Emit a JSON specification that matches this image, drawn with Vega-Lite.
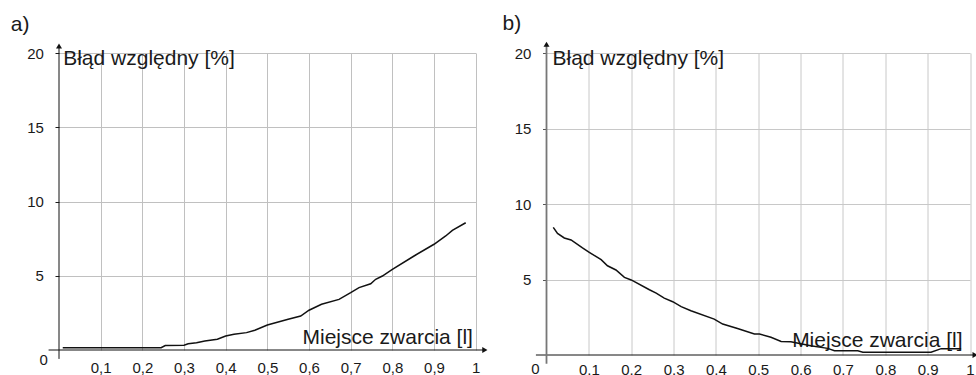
{
  "$schema": "https://vega.github.io/schema/vega-lite/v6.json",
  "padding": {"left": 10, "top": 12, "right": 0, "bottom": 0},
  "bounds": "flush",
  "spacing": 70.5,
  "config": {"view": {"stroke": null}, "font": "Liberation Sans"},
  "hconcat": [
    {
      "width": 416.7,
      "height": 297,
      "title": {"text": "a)", "anchor": "start", "frame": "group", "dx": -48.3, "offset": -9, "baseline": "alphabetic", "fontSize": 21, "fontWeight": "normal", "font": "Liberation Sans", "color": "#1a1a1a"},
      "encoding": {
        "x": {"field": "x", "type": "quantitative", "scale": {"domain": [0, 1], "nice": false, "zero": false},
          "axis": {"values": [0.1, 0.2, 0.3, 0.4, 0.5, 0.6, 0.7, 0.8, 0.9, 1], "grid": true, "gridColor": "#c0c0c0", "gridWidth": 1, "domain": false, "ticks": false, "tickSize": 0, "labelPadding": 22.7, "labelBaseline": "alphabetic", "labelFontSize": 15, "labelFont": "Liberation Sans", "labelColor": "#1a1a1a", "labelFlush": false, "labelOverlap": false,
            "labelExpr": "datum.value == 1 ? '1' : replace(format(datum.value, '.1f'), '.', ',')",
            "title": "Miejsce zwarcia [l]", "titleX": 413.4, "titleY": -7, "titleAlign": "right", "titleBaseline": "alphabetic", "titleFontSize": 21, "titleFontWeight": "normal", "titleFont": "Liberation Sans", "titleColor": "#1a1a1a"}},
        "y": {"field": "y", "type": "quantitative", "scale": {"domain": [0, 20], "nice": false, "zero": false},
          "axis": {"values": [5, 10, 15, 20], "grid": true, "gridColor": "#c0c0c0", "gridWidth": 1, "domain": false, "ticks": true, "tickSize": 4, "tickColor": "#1a1a1a", "labelPadding": 11.6, "labelFontSize": 15, "labelFont": "Liberation Sans", "labelColor": "#1a1a1a", "labelFlush": false, "labelOverlap": false,
            "title": "Błąd względny [%]", "titleAngle": 0, "titleX": 3.7, "titleY": 11, "titleAlign": "left", "titleBaseline": "alphabetic", "titleFontSize": 21, "titleFontWeight": "normal", "titleFont": "Liberation Sans", "titleColor": "#1a1a1a"}}
      },
      "layer": [
        {
          "data": {"values": [
            {"x": 0.009, "y": 0.15}, {"x": 0.245, "y": 0.15}, {"x": 0.255, "y": 0.3}, {"x": 0.3, "y": 0.32},
            {"x": 0.31, "y": 0.42}, {"x": 0.33, "y": 0.49}, {"x": 0.35, "y": 0.6}, {"x": 0.38, "y": 0.72},
            {"x": 0.4, "y": 0.94}, {"x": 0.42, "y": 1.06}, {"x": 0.45, "y": 1.17}, {"x": 0.47, "y": 1.33},
            {"x": 0.5, "y": 1.68}, {"x": 0.55, "y": 2.07}, {"x": 0.58, "y": 2.29}, {"x": 0.6, "y": 2.68},
            {"x": 0.63, "y": 3.08}, {"x": 0.672, "y": 3.41}, {"x": 0.7, "y": 3.86}, {"x": 0.72, "y": 4.2},
            {"x": 0.748, "y": 4.46}, {"x": 0.76, "y": 4.76}, {"x": 0.776, "y": 4.98}, {"x": 0.8, "y": 5.43},
            {"x": 0.852, "y": 6.33}, {"x": 0.9, "y": 7.12}, {"x": 0.928, "y": 7.68}, {"x": 0.944, "y": 8.06},
            {"x": 0.976, "y": 8.57}
          ]},
          "mark": {"type": "line", "color": "#111111", "strokeWidth": 1.5}
        },
        {
          "data": {"values": [{"x": -0.025, "x2": 1.02, "y": 0}]},
          "mark": {"type": "rule", "color": "#111111", "strokeWidth": 1},
          "encoding": {"x2": {"field": "x2"}}
        },
        {
          "data": {"values": [{"x": 0, "y": -0.6, "y2": 20.5}]},
          "mark": {"type": "rule", "color": "#111111", "strokeWidth": 1},
          "encoding": {"y2": {"field": "y2"}}
        },
        {
          "data": {"values": [{"x": 0, "y": 20.47}]},
          "mark": {"type": "point", "shape": "triangle-up", "filled": true, "color": "#111111", "size": 36, "opacity": 1}
        },
        {
          "data": {"values": [{"x": 1.022, "y": 0}]},
          "mark": {"type": "point", "shape": "triangle-right", "filled": true, "color": "#111111", "size": 36, "opacity": 1}
        },
        {
          "data": {"values": [{"x": 0, "y": 0, "t": "0"}]},
          "mark": {"type": "text", "dx": -15.3, "dy": 10, "align": "center", "baseline": "middle", "fontSize": 15, "font": "Liberation Sans", "color": "#1a1a1a"},
          "encoding": {"text": {"field": "t"}}
        }
      ]
    },
    {
      "width": 423.5,
      "height": 302,
      "title": {"text": "b)", "anchor": "start", "frame": "group", "dx": -44, "offset": -9, "baseline": "alphabetic", "fontSize": 21, "fontWeight": "normal", "font": "Liberation Sans", "color": "#1a1a1a"},
      "encoding": {
        "x": {"field": "x", "type": "quantitative", "scale": {"domain": [0, 1], "nice": false, "zero": false},
          "axis": {"values": [0.1, 0.2, 0.3, 0.4, 0.5, 0.6, 0.7, 0.8, 0.9, 1], "grid": true, "gridColor": "#c8c8c8", "gridWidth": 1, "domain": false, "ticks": false, "tickSize": 0, "labelPadding": 19.2, "labelBaseline": "alphabetic", "labelFontSize": 15, "labelFont": "Liberation Sans", "labelColor": "#1a1a1a", "labelFlush": false, "labelOverlap": false,
            "labelExpr": "datum.value == 1 ? '1' : format(datum.value, '.1f')",
            "title": "Miejsce zwarcia [l]", "titleX": 415.5, "titleY": -9, "titleAlign": "right", "titleBaseline": "alphabetic", "titleFontSize": 21, "titleFontWeight": "normal", "titleFont": "Liberation Sans", "titleColor": "#1a1a1a"}},
        "y": {"field": "y", "type": "quantitative", "scale": {"domain": [0, 20], "nice": false, "zero": false},
          "axis": {"values": [5, 10, 15, 20], "grid": true, "gridColor": "#c8c8c8", "gridWidth": 1, "domain": false, "ticks": true, "tickSize": 4, "tickColor": "#555555", "labelPadding": 11.6, "labelFontSize": 15, "labelFont": "Liberation Sans", "labelColor": "#1a1a1a", "labelFlush": false, "labelOverlap": false,
            "title": "Błąd względny [%]", "titleAngle": 0, "titleX": 5.5, "titleY": 11, "titleAlign": "left", "titleBaseline": "alphabetic", "titleFontSize": 21, "titleFontWeight": "normal", "titleFont": "Liberation Sans", "titleColor": "#1a1a1a"}}
      },
      "layer": [
        {
          "data": {"values": [
            {"x": 0.016, "y": 8.45}, {"x": 0.026, "y": 8.05}, {"x": 0.042, "y": 7.75}, {"x": 0.058, "y": 7.62},
            {"x": 0.085, "y": 7.09}, {"x": 0.101, "y": 6.8}, {"x": 0.129, "y": 6.31}, {"x": 0.144, "y": 5.91},
            {"x": 0.164, "y": 5.63}, {"x": 0.184, "y": 5.14}, {"x": 0.2, "y": 4.97}, {"x": 0.243, "y": 4.32},
            {"x": 0.259, "y": 4.1}, {"x": 0.278, "y": 3.77}, {"x": 0.298, "y": 3.53}, {"x": 0.318, "y": 3.2},
            {"x": 0.341, "y": 2.93}, {"x": 0.396, "y": 2.38}, {"x": 0.416, "y": 2.05}, {"x": 0.451, "y": 1.76},
            {"x": 0.491, "y": 1.39}, {"x": 0.503, "y": 1.39}, {"x": 0.53, "y": 1.17}, {"x": 0.554, "y": 0.9},
            {"x": 0.577, "y": 0.88}, {"x": 0.624, "y": 0.62}, {"x": 0.664, "y": 0.44}, {"x": 0.68, "y": 0.28},
            {"x": 0.735, "y": 0.28}, {"x": 0.747, "y": 0.18}, {"x": 0.908, "y": 0.18}, {"x": 0.932, "y": 0.42},
            {"x": 0.979, "y": 0.42}
          ]},
          "mark": {"type": "line", "color": "#111111", "strokeWidth": 1.5}
        },
        {
          "data": {"values": [{"x": -0.025, "x2": 1.01, "y": 0}]},
          "mark": {"type": "rule", "color": "#111111", "strokeWidth": 1},
          "encoding": {"x2": {"field": "x2"}}
        },
        {
          "data": {"values": [{"x": 0, "y": -0.58, "y2": 20.6}]},
          "mark": {"type": "rule", "color": "#777777", "strokeWidth": 1.8},
          "encoding": {"y2": {"field": "y2"}}
        },
        {
          "data": {"values": [{"x": 0, "y": 20.58}]},
          "mark": {"type": "point", "shape": "triangle-up", "filled": true, "color": "#111111", "size": 36, "opacity": 1}
        },
        {
          "data": {"values": [{"x": 1.012, "y": 0}]},
          "mark": {"type": "point", "shape": "triangle-right", "filled": true, "color": "#111111", "size": 36, "opacity": 1}
        },
        {
          "data": {"values": [{"x": 0, "y": 0, "t": "0"}]},
          "mark": {"type": "text", "dx": -11, "dy": 13.7, "align": "center", "baseline": "middle", "fontSize": 15, "font": "Liberation Sans", "color": "#1a1a1a"},
          "encoding": {"text": {"field": "t"}}
        }
      ]
    }
  ]
}
